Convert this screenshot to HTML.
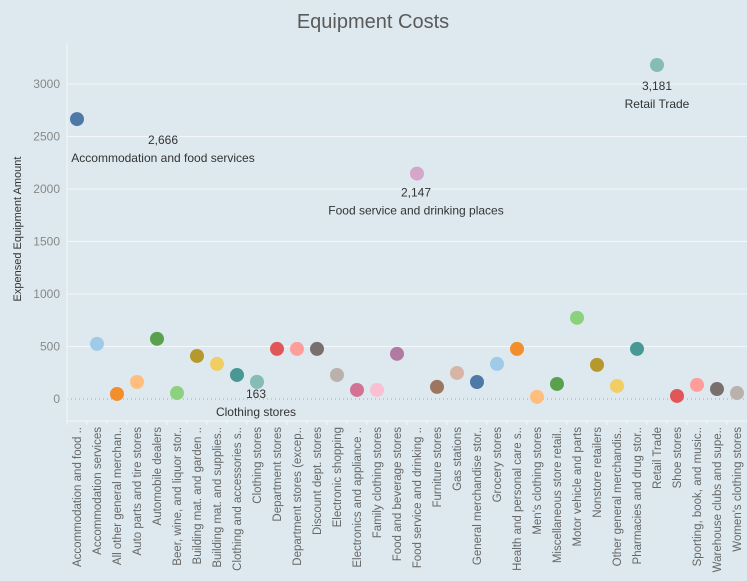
<!DOCTYPE html>
<html><head><meta charset="utf-8"><style>
html,body{margin:0;padding:0;background:#dde9ef;}
svg{display:block;font-family:"Liberation Sans","DejaVu Sans",sans-serif;}
</style></head><body>
<svg id="chart" width="747" height="581" viewBox="0 0 747 581">
<rect width="747" height="581" fill="#dde9ef"/>
<text x="373" y="28" text-anchor="middle" font-size="20" fill="#5a5a5a">Equipment Costs</text>
<text transform="translate(21,229) rotate(-90)" text-anchor="middle" font-size="11" fill="#333">Expensed Equipment Amount</text>
<g id="grid"></g><g id="yticks"></g><g id="xaxis"></g><g id="dots"></g><g id="notes"></g>
</svg>
<script>
const categories=["Accommodation and food ..","Accommodation services","All other general merchan..","Auto parts and tire stores","Automobile dealers","Beer, wine, and liquor stor..","Building mat. and garden ..","Building mat. and supplies..","Clothing and accessories s..","Clothing stores","Department stores","Department stores (excep..","Discount dept. stores","Electronic shopping","Electronics and appliance ..","Family clothing stores","Food and beverage stores","Food service and drinking ..","Furniture stores","Gas stations","General merchandise stor..","Grocery stores","Health and personal care s..","Men's clothing stores","Miscellaneous store retail..","Motor vehicle and parts","Nonstore retailers","Other general merchandis..","Pharmacies and drug stor..","Retail Trade","Shoe stores","Sporting, book, and music..","Warehouse clubs and supe..","Women's clothing stores"];
const values=[2666,525,48,162,573,57,410,334,229,163,477,477,477,229,86,86,430,2147,115,248,162,334,477,20,143,773,325,124,477,3181,29,134,95,57];
const yTicks=[0,500,1000,1500,2000,2500,3000];
const annotations=[{i:0,name:"Accommodation and food services",dx:86,dy:25},{i:9,name:"Clothing stores",dx:-1,dy:16},{i:17,name:"Food service and drinking places",dx:-1,dy:23},{i:29,name:"Retail Trade",dx:0,dy:25}];
const palette=["#4e79a7","#a0cbe8","#f28e2b","#ffbe7d","#59a14f","#8cd17d","#b6992d","#f1ce63","#499894","#86bcb6","#e15759","#ff9d9a","#79706e","#bab0ac","#d37295","#fabfd2","#b07aa1","#d4a6c8","#9d7660","#d7b5a6"];
const NS="http://www.w3.org/2000/svg";
const x0=67,step=20,yZero=399,pxPer=0.105;
const xs=i=>x0+10+i*step;
const ys=v=>yZero-v*pxPer;
function mk(tag,attrs,parent){const e=document.createElementNS(NS,tag);for(const k in attrs)e.setAttribute(k,attrs[k]);parent.appendChild(e);return e;}
const grid=document.getElementById('grid'),yt=document.getElementById('yticks'),xa=document.getElementById('xaxis'),dots=document.getElementById('dots'),notes=document.getElementById('notes');
yTicks.forEach(t=>{
  const y=ys(t);
  const l=mk('line',{x1:x0,x2:747,y1:y,y2:y,stroke:t===0?'#9aa':'#f4f8fa','stroke-width':1,'stroke-dasharray':t===0?'1,3':'none'},grid);
  
  
  const tx=mk('text',{x:60,y:y+4,'text-anchor':'end','font-size':12,fill:'#888'},yt);
  tx.textContent=t;
  
  
});
const ax=mk('line',{x1:x0,x2:x0,y1:43,y2:421,stroke:'#f4f8fa'},grid);


const bx=mk('line',{x1:x0,x2:747,y1:421,y2:421,stroke:'#f4f8fa'},xa);


categories.forEach((c,i)=>{
  const tk=mk('line',{x1:x0+i*step,x2:x0+i*step,y1:421,y2:425,stroke:'#f4f8fa'},xa);
  
  
  const t=mk('text',{transform:`translate(${xs(i)+4},427) rotate(-90)`,'text-anchor':'end','font-size':11.5,fill:'#666'},xa);
  t.textContent=c;
  
  
  const d=mk('circle',{cx:xs(i),cy:ys(values[i]),r:7,fill:palette[i%20]},dots);
  
  
});
annotations.forEach(a=>{
  const cx=xs(a.i)+a.dx,cy=ys(values[a.i])+a.dy;
  const v=mk('text',{x:cx,y:cy,'text-anchor':'middle','font-size':12,fill:'#333'},notes);
  v.textContent=values[a.i].toLocaleString('en-US');
  
  
  const n=mk('text',{x:cx,y:cy+18,'text-anchor':'middle','font-size':12,fill:'#333'},notes);
  n.textContent=a.name;
  
  
});
</script>
</body></html>
